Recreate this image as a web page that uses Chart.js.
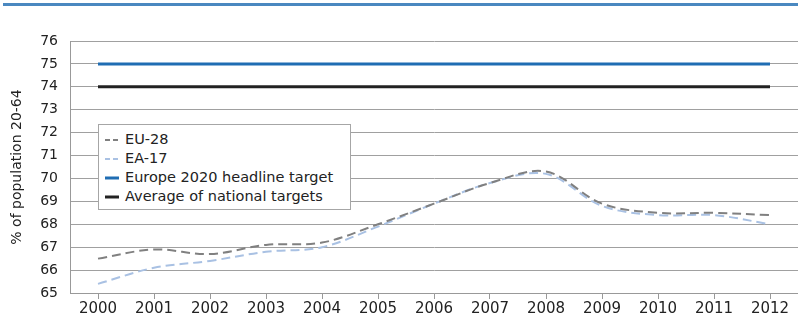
<!DOCTYPE html>
<html>
<head>
<meta charset="utf-8">
<script src="https://cdn.jsdelivr.net/npm/chart.js@4.4.1/dist/chart.umd.min.js"></script>
<style>
  html, body { margin: 0; padding: 0; background: #fff; }
  #wrap { position: relative; width: 798px; height: 322px; overflow: hidden; }
  #topRule { position: absolute; left: 3px; right: 0; top: 3px; height: 3px; background: #4a88c0; }
  #legend {
    position: absolute; left: 98px; top: 124px; width: 253px; height: 86px;
    border: 1px solid #a6a6a6; background: #fff;
    font-family: "DejaVu Sans", sans-serif; font-size: 14.5px; color: #222;
    padding-top: 5px; box-sizing: border-box;
  }
  #legend .item { height: 19px; line-height: 19px; white-space: nowrap; padding-left: 6px; }
  #legend svg { vertical-align: middle; margin-right: 6px; }
</style>
</head>
<body>
<div id="wrap">
  <div id="topRule"></div>
  <canvas id="chart" width="798" height="322"></canvas>
  <div id="legend"></div>
</div>
<script>
// years on the x axis
const years = ['2000','2001','2002','2003','2004','2005','2006','2007','2008','2009','2010','2011','2012'];

// employment rate, % of population 20-64
const eu28 = [66.5, 66.9, 66.7, 67.1, 67.2, 68.0, 68.9, 69.8, 70.3, 68.9, 68.5, 68.5, 68.4];
const ea17 = [65.4, 66.1, 66.4, 66.8, 67.0, 67.9, 68.9, 69.8, 70.2, 68.8, 68.4, 68.4, 68.0];
const headlineTarget = [75, 75, 75, 75, 75, 75, 75, 75, 75, 75, 75, 75, 75];
const nationalTargets = [74, 74, 74, 74, 74, 74, 74, 74, 74, 74, 74, 74, 74];

const yMin = 65, yMax = 76;
const fontFam = '"DejaVu Sans", sans-serif';

const chart = new Chart(document.getElementById('chart'), {
  type: 'line',
  data: {
    labels: years,
    datasets: [{
      label: 'EU-28',
      data: eu28,
      borderColor: '#808080',
      borderWidth: 2,
      borderDash: [9, 5],
      tension: 0.35,
      pointRadius: 0,
      order: 1,
    }, {
      label: 'EA-17',
      data: ea17,
      borderColor: '#a9c1e3',
      borderWidth: 2,
      borderDash: [9, 5],
      tension: 0.35,
      pointRadius: 0,
      order: 2,
    }, {
      label: 'Europe 2020 headline target',
      data: headlineTarget,
      borderColor: '#1f6db3',
      borderWidth: 3,
      pointRadius: 0,
    }, {
      label: 'Average of national targets',
      data: nationalTargets,
      borderColor: '#222222',
      borderWidth: 3,
      pointRadius: 0,
    }],
  },
  options: {
    responsive: false,
    animation: false,
    layout: { padding: { top: 41, right: 0, left: 0, bottom: 0 } },
    plugins: { legend: { display: false }, tooltip: { enabled: false } },
    scales: {
      x: {
        offset: true,
        grid: { drawOnChartArea: false, drawTicks: true, tickLength: 6, color: '#999' },
        border: { color: '#999', width: 1 },
        ticks: { font: { size: 15, family: fontFam }, color: '#222', padding: 1, maxRotation: 0, autoSkip: false },
        afterFit: (s) => { s.height = 29; },
      },
      y: {
        min: yMin, max: yMax,
        ticks: { stepSize: 1, font: { size: 14, family: fontFam }, color: '#222', padding: 12 },
        grid: { color: '#a0a0a0', drawTicks: false },
        border: { color: '#999', width: 1 },
        title: { display: true, text: '% of population 20-64', font: { size: 14, family: fontFam }, color: '#222', padding: { top: 9, bottom: 0 } },
        afterFit: (s) => { s.width = 70; },
      },
    },
  },
});

// html legend built from the datasets
const leg = document.getElementById('legend');
chart.data.datasets.forEach(ds => {
  const row = document.createElement('div');
  row.className = 'item';
  const dash = ds.borderDash ? 'stroke-dasharray="5,3"' : '';
  const w = ds.borderDash ? 2 : 3;
  row.innerHTML = '<svg width="14" height="6"><line x1="0" y1="3" x2="14" y2="3" stroke="' + ds.borderColor +
    '" stroke-width="' + w + '" ' + dash + '/></svg>' + ds.label;
  leg.appendChild(row);
});
</script>
</body>
</html>
